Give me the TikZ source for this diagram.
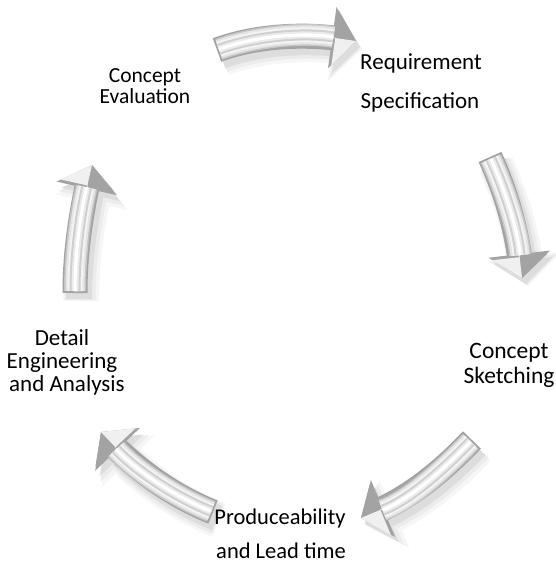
\documentclass[tikz,border=0pt]{standalone}
\usepackage{fontspec}
\setmainfont{Carlito}
\usetikzlibrary{arrows.meta,bending}

% one silver arrow: shadow, beveled shaft, two-tone head
% #1 = side of the head that is dark, #2 = side that is light, #3 = path
\newcommand\silverarrow[3]{%
  \draw[shadowA] #3;
  \draw[shadowB] #3;
  \draw[shadowC] #3;
  \draw[bodyline] #3;
  \draw[bevel, draw=gray!45, line width=22pt] #3;
  \draw[bevel, draw=gray!20, line width=19pt] #3;
  \draw[bevel, draw=gray!9,  line width=15pt] #3;
  \draw[bevel, draw=gray!38, line width=11pt] #3;
  \draw[bevel, draw=gray!16, line width=7pt] #3;
  \draw[bevel, draw=white,   line width=3pt] #3;
  \draw[headhalf={#1}{gray!72}] #3;
  \draw[headhalf={#2}{gray!12}] #3;
}

\begin{document}
\begin{tikzpicture}[x=1pt,y=-1pt,
  lbl/.style={anchor=base, inner sep=0pt, text=black},
  shadowA/.style={draw=gray!7, line width=36pt,
    -{Triangle[width=74pt,length=30pt,line width=0pt]},
    transform canvas={shift={(6,8)}}},
  shadowB/.style={draw=gray!15, line width=31pt,
    -{Triangle[width=67pt,length=27pt,line width=0pt]},
    transform canvas={shift={(5,7)}}},
  shadowC/.style={draw=gray!27, line width=26pt,
    -{Triangle[width=60pt,length=24pt,line width=0pt]},
    transform canvas={shift={(4,6)}}},
  bodyline/.style={draw=gray!72, line width=25pt,
    -{Triangle[width=62pt,length=24pt,line width=0pt]}},
  bevel/.style={shorten >=23pt, shorten <=2pt},
  headhalf/.style 2 args={draw=white, line width=.3pt, shorten <=4pt,
    -{Triangle[#1,width=55pt,length=21pt,line width=0pt,color=#2]}},
]
\useasboundingbox (0,0) rectangle (556,565);

% arrow end points
\coordinate (a1s) at (217,50);  \coordinate (a1e) at (356,41);
\coordinate (a2s) at (490,157); \coordinate (a2e) at (522,278);
\coordinate (a3s) at (472,440); \coordinate (a3e) at (361,518);
\coordinate (a4s) at (213,512); \coordinate (a4e) at (101,432);
\coordinate (a5s) at (75,293);  \coordinate (a5e) at (92,165);

% the five arrows of the cycle
\silverarrow{left}{right}{(a1s) .. controls (255,36) and (305,32) .. (a1e)}
\silverarrow{left}{right}{(a2s) .. controls (505,190) and (518,230) .. (a2e)}
\silverarrow{right}{left}{(a3s) .. controls (445,468) and (410,500) .. (a3e)}
\silverarrow{left}{right}{(a4s) .. controls (170,495) and (130,465) .. (a4e)}
\silverarrow{right}{left}{(a5s) .. controls (75,255) and (80,215) .. (a5e)}

% stage labels
\node[lbl, font=\fontsize{21.5}{25}\selectfont] (ce1) at (145,82) {Concept};
\node[lbl, font=\fontsize{21.5}{25}\selectfont] (ce2) at (145,103) {Evaluation};
\node[lbl, font=\fontsize{23}{27}\selectfont] (rs1) at (421,69) {Requirement};
\node[lbl, font=\fontsize{23}{27}\selectfont] (rs2) at (420,108) {Specification};
\node[lbl, font=\fontsize{23.5}{27}\selectfont] (cs1) at (509,358) {Concept};
\node[lbl, font=\fontsize{23.5}{27}\selectfont] (cs2) at (509,383) {Sketching};
\node[lbl, font=\fontsize{23}{27}\selectfont] (de1) at (62,345) {Detail};
\node[lbl, font=\fontsize{23}{27}\selectfont] (de2) at (62,368) {Engineering};
\node[lbl, font=\fontsize{23}{27}\selectfont] (de3) at (67,391) {and Analysis};
\node[lbl, font=\fontsize{22.5}{27}\selectfont] (pl1) at (280,524) {Produceability};
\node[lbl, font=\fontsize{22.5}{27}\selectfont] (pl2) at (281,558) {and Lead time};
\end{tikzpicture}
\end{document}
